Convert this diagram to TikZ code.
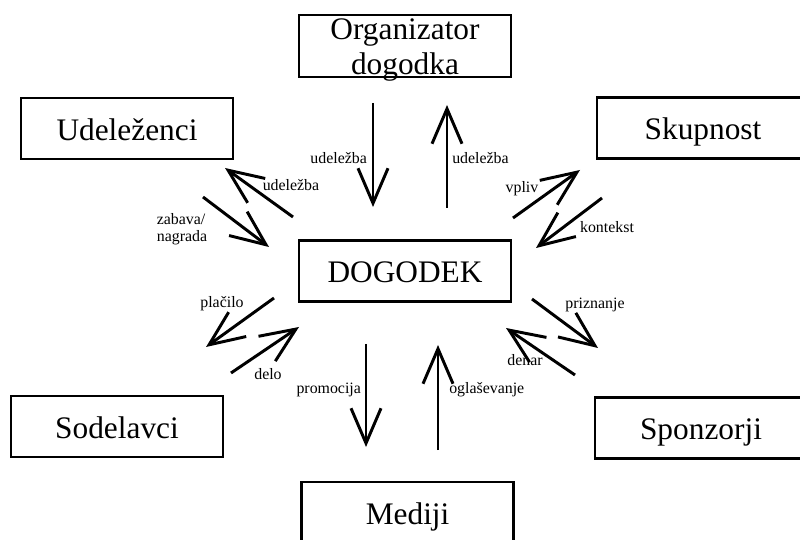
\documentclass[tikz,border=0pt]{standalone}
\usepackage{fontspec}
\setmainfont{Liberation Serif}
\usetikzlibrary{arrows.meta}
\begin{document}
\begin{tikzpicture}[
    box/.style={draw,line width=1.8pt,minimum width=5.3cm,minimum height=1.53cm,
      inner sep=0pt,align=center,font=\fontsize{22.3}{24.8}\selectfont},
    boxone/.style={box,text height=17pt,text depth=0pt},
    lbl/.style={inner sep=0pt,font=\fontsize{11.3}{12.5}\selectfont},
    arr/.style={line width=2.1pt,-{Straight Barb[length=0.875cm,width=0.75cm]}}]
    \useasboundingbox (0,0) rectangle (20,13.475);
    % boxes
    \node[box,text height=42.4pt,text depth=1.5pt,minimum height=1.55cm] (org) at (10.125,12.325) {Organizator\\dogodka};
    \node[boxone] (ude) at (3.175,10.26) {Udeleženci};
    \node[boxone] (sku) at (17.575,10.275) {Skupnost};
    \node[boxone] (dog) at (10.125,6.7) {DOGODEK};
    \node[boxone] (sod) at (2.925,2.81) {Sodelavci};
    \node[boxone] (spo) at (17.525,2.775) {Sponzorji};
    \node[boxone] (med) at (10.19,0.66) {Mediji};
    % arrow ends
    \coordinate (o1) at (9.325,10.9);   \coordinate (o2) at (9.325,8.3);
    \coordinate (o3) at (11.175,8.275); \coordinate (o4) at (11.175,10.85);
    \coordinate (u1) at (7.325,8.05);   \coordinate (u2) at (5.625,9.275);
    \coordinate (u3) at (5.075,8.55);   \coordinate (u4) at (6.725,7.3);
    \coordinate (s1) at (12.825,8.025); \coordinate (s2) at (14.5,9.225);
    \coordinate (s3) at (15.05,8.525);  \coordinate (s4) at (13.4,7.275);
    \coordinate (d1) at (6.85,6.025);   \coordinate (d2) at (5.15,4.8);
    \coordinate (d3) at (5.775,4.15);   \coordinate (d4) at (7.475,5.3);
    \coordinate (p1) at (13.3,6.0);     \coordinate (p2) at (14.95,4.775);
    \coordinate (p3) at (14.375,4.1);   \coordinate (p4) at (12.65,5.275);
    \coordinate (m1) at (9.15,4.875);   \coordinate (m2) at (9.15,2.3);
    \coordinate (m3) at (10.95,2.225);  \coordinate (m4) at (10.95,4.85);
    % arrows
    \draw[arr] (o1) -- (o2);
    \draw[arr] (o3) -- (o4);
    \draw[arr] (u1) -- (u2);
    \draw[arr] (u3) -- (u4);
    \draw[arr] (s1) -- (s2);
    \draw[arr] (s3) -- (s4);
    \draw[arr] (d1) -- (d2);
    \draw[arr] (d3) -- (d4);
    \draw[arr] (p1) -- (p2);
    \draw[arr] (p3) -- (p4);
    \draw[arr] (m1) -- (m2);
    \draw[arr] (m3) -- (m4);
    % labels
    \node[lbl,anchor=east] (lo1) at (9.18,9.53) {udeležba};
    \node[lbl,anchor=west] (lo2) at (11.3,9.53) {udeležba};
    \node[lbl] (lu1) at (7.275,8.85) {udeležba};
    \node[lbl,align=left] (lu2) at (4.55,7.75) {zabava/\\nagrada};
    \node[lbl] (ls1) at (13.05,8.75) {vpliv};
    \node[lbl] (ls2) at (15.175,7.8) {kontekst};
    \node[lbl] (ld1) at (5.55,5.875) {plačilo};
    \node[lbl] (ld2) at (6.7,4.125) {delo};
    \node[lbl] (lp1) at (14.875,5.85) {priznanje};
    \node[lbl] (lp2) at (13.125,4.475) {denar};
    \node[lbl,anchor=east] (lm1) at (9.03,3.725) {promocija};
    \node[lbl,anchor=west] (lm2) at (11.225,3.725) {oglaševanje};
\end{tikzpicture}
\end{document}
